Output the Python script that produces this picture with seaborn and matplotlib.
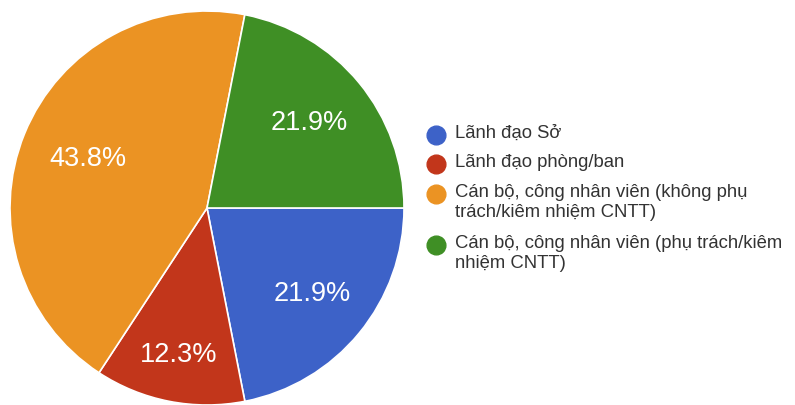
import matplotlib
matplotlib.use("Agg")
import matplotlib.pyplot as plt
import numpy as np
import seaborn as sns

# Survey respondents by role (percent)
categories = [
    "Lãnh đạo Sở",
    "Lãnh đạo phòng/ban",
    "Cán bộ, công nhân viên (không phụ trách/kiêm nhiệm CNTT)",
    "Cán bộ, công nhân viên (phụ trách/kiêm nhiệm CNTT)",
]
legend_labels = [
    "Lãnh đạo Sở",
    "Lãnh đạo phòng/ban",
    "Cán bộ, công nhân viên (không phụ\ntrách/kiêm nhiệm CNTT)",
    "Cán bộ, công nhân viên (phụ trách/kiêm\nnhiệm CNTT)",
]
shares = [21.9, 12.3, 43.8, 21.9]
colors = ["#3d62c8", "#c2361b", "#eb9323", "#3f8f25"]

sns.set_theme(style="white")
plt.rcParams["font.family"] = ["Liberation Sans", "DejaVu Sans"]
palette = sns.color_palette(colors)

W, H = 795, 405
fig = plt.figure(figsize=(W / 100, H / 100), dpi=100)
fig.patch.set_facecolor("white")

cx, cy, r = 207, 208, 197
ax = fig.add_axes([(cx - r) / W, (H - cy - r) / H, 2 * r / W, 2 * r / H])
wedges, _, autotexts = ax.pie(
    shares,
    colors=palette,
    startangle=0,
    counterclock=False,
    autopct="%.1f%%",
    pctdistance=0.70,
    wedgeprops=dict(edgecolor="white", linewidth=1.2),
    textprops=dict(color="white", fontsize=19.5),
)
# radial placement of each percentage label along its wedge's bisector
label_radius = [0.69, 0.76, 0.655, 0.675]
for w, t, rad in zip(wedges, autotexts, label_radius):
    mid = np.deg2rad((w.theta1 + w.theta2) / 2)
    t.set_position((rad * np.cos(mid), rad * np.sin(mid)))
ax.set_xlim(-1, 1)
ax.set_ylim(-1, 1)
ax.set_aspect("equal")
ax.axis("off")

# Legend drawn in pixel coordinates so each marker sits on its label's first line
lax = fig.add_axes([0, 0, 1, 1])
lax.set_xlim(0, W)
lax.set_ylim(H, 0)
lax.axis("off")
row_y = [135, 164, 194, 245]
for y, lab, col in zip(row_y, legend_labels, palette):
    lax.plot([436], [y], marker="o", markersize=13.5, color=col, linestyle="none")
    lax.text(455, y - 10, lab, fontsize=13.3, color="#333333", va="top", ha="left",
             linespacing=1.2)

fig.savefig("out.png", dpi=100, facecolor="white")
